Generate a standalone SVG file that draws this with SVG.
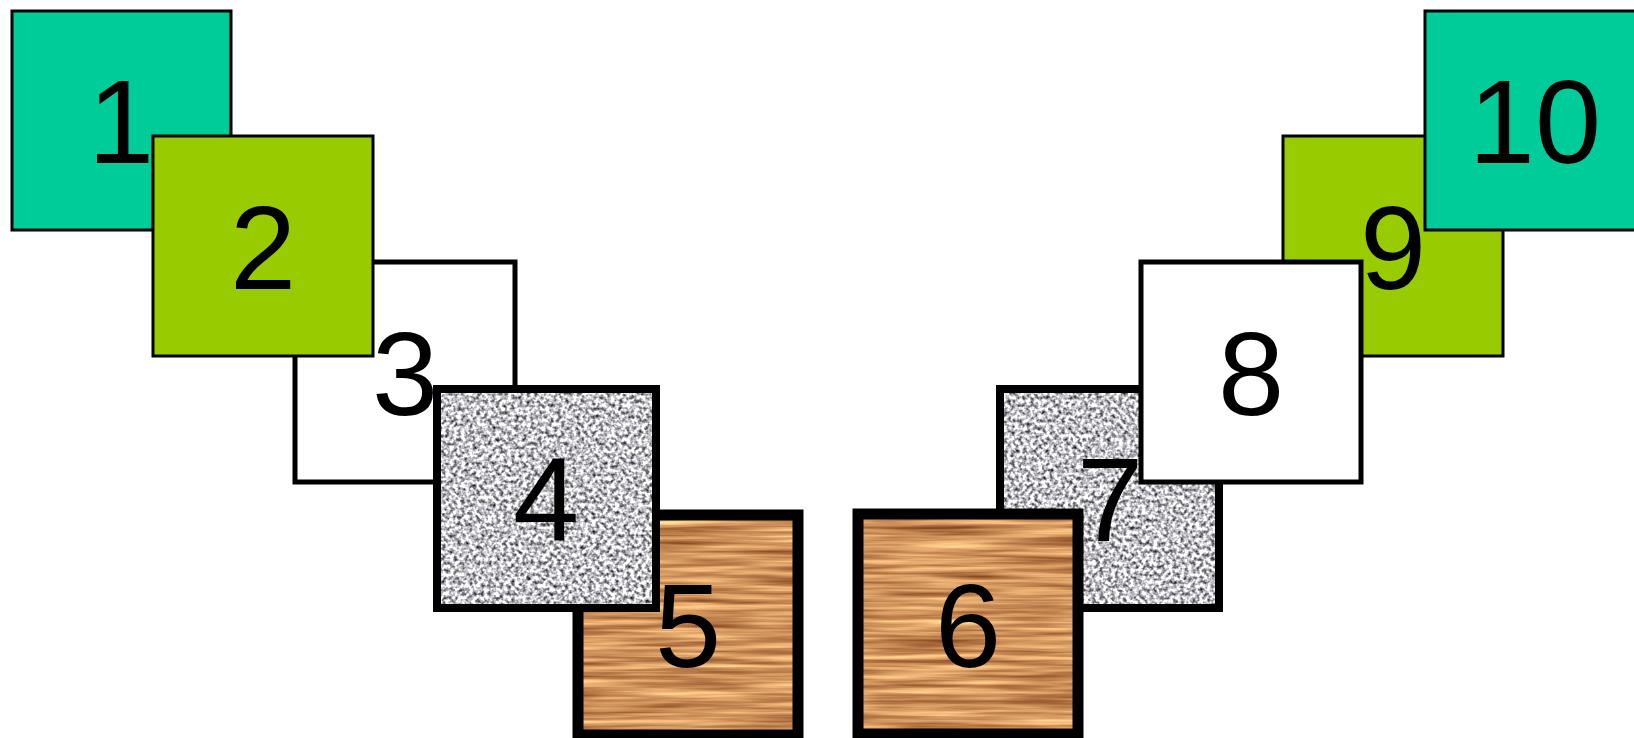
<svg xmlns="http://www.w3.org/2000/svg" width="1634" height="738" viewBox="0 0 1634 738">
<defs>
<style>
.lbl{font-family:"Liberation Sans",Arial,sans-serif;font-size:119px;fill:#000;text-anchor:middle}
.teal{fill:#00CC99;stroke:#000;stroke-width:3}
.lime{fill:#99CC00;stroke:#000;stroke-width:3}
.white{fill:#fff;stroke:#000;stroke-width:5}
.frame8{fill:none;stroke:#000;stroke-width:8}
.frame11{fill:none;stroke:#000;stroke-width:11}
</style>
<filter id="granite" x="0" y="0" width="1" height="1" color-interpolation-filters="sRGB">
<feTurbulence type="fractalNoise" baseFrequency="0.26" numOctaves="2" seed="7" result="n"/>
<feColorMatrix in="n" type="matrix" values="1.8 0 0 0 -0.14  1.8 0 0 0 -0.14  1.8 0 0 0 -0.12  0 0 0 0 1" result="g"/>
<feComposite in="g" in2="SourceGraphic" operator="in"/>
</filter>
<filter id="wood" x="0" y="0" width="1" height="1" color-interpolation-filters="sRGB">
<feTurbulence type="fractalNoise" baseFrequency="0.008 0.2" numOctaves="3" seed="3" result="n"/>
<feColorMatrix in="n" type="matrix" values="0.7 0 0 0 0.46  0.75 0 0 0 0.2  0.6 0 0 0 0.06  0 0 0 0 1" result="w"/>
<feComposite in="w" in2="SourceGraphic" operator="in"/>
</filter>
</defs>
<rect width="1634" height="738" fill="#fff"/>
<g id="connectors"/>
<g id="node1"><rect class="teal" x="12" y="11" width="219" height="219"/><text class="lbl" x="121" y="163">1</text></g>
<g id="node3"><rect class="white" x="295" y="262" width="220" height="220"/><text class="lbl" x="405" y="415">3</text></g>
<g id="node2"><rect class="lime" x="153" y="136" width="220" height="220"/><text class="lbl" x="263" y="289">2</text></g>
<g id="node5"><rect x="578" y="515" width="220" height="220" fill="#c90" filter="url(#wood)"/><rect class="frame11" x="578" y="515" width="220" height="220"/><text class="lbl" x="688" y="667">5</text></g>
<g id="node4"><rect x="437" y="389" width="219" height="219" fill="#bbb" filter="url(#granite)"/><rect class="frame8" x="437" y="389" width="219" height="219"/><text class="lbl" x="546" y="541">4</text></g>
<g id="node9"><rect class="lime" x="1283" y="136" width="220" height="220"/><text class="lbl" x="1393" y="289">9</text></g>
<g id="node10"><rect class="teal" x="1425" y="11" width="220" height="219"/><text class="lbl" x="1535" y="163">10</text></g>
<g id="node7"><rect x="1000" y="389" width="219" height="219" fill="#bbb" filter="url(#granite)"/><rect class="frame8" x="1000" y="389" width="219" height="219"/><text class="lbl" x="1110" y="541">7</text></g>
<g id="node8"><rect class="white" x="1141" y="262" width="220" height="220"/><text class="lbl" x="1251" y="415">8</text></g>
<g id="node6"><rect x="858" y="514" width="220" height="220" fill="#c90" filter="url(#wood)"/><rect class="frame11" x="858" y="514" width="220" height="220"/><text class="lbl" x="968" y="667">6</text></g>
</svg>
